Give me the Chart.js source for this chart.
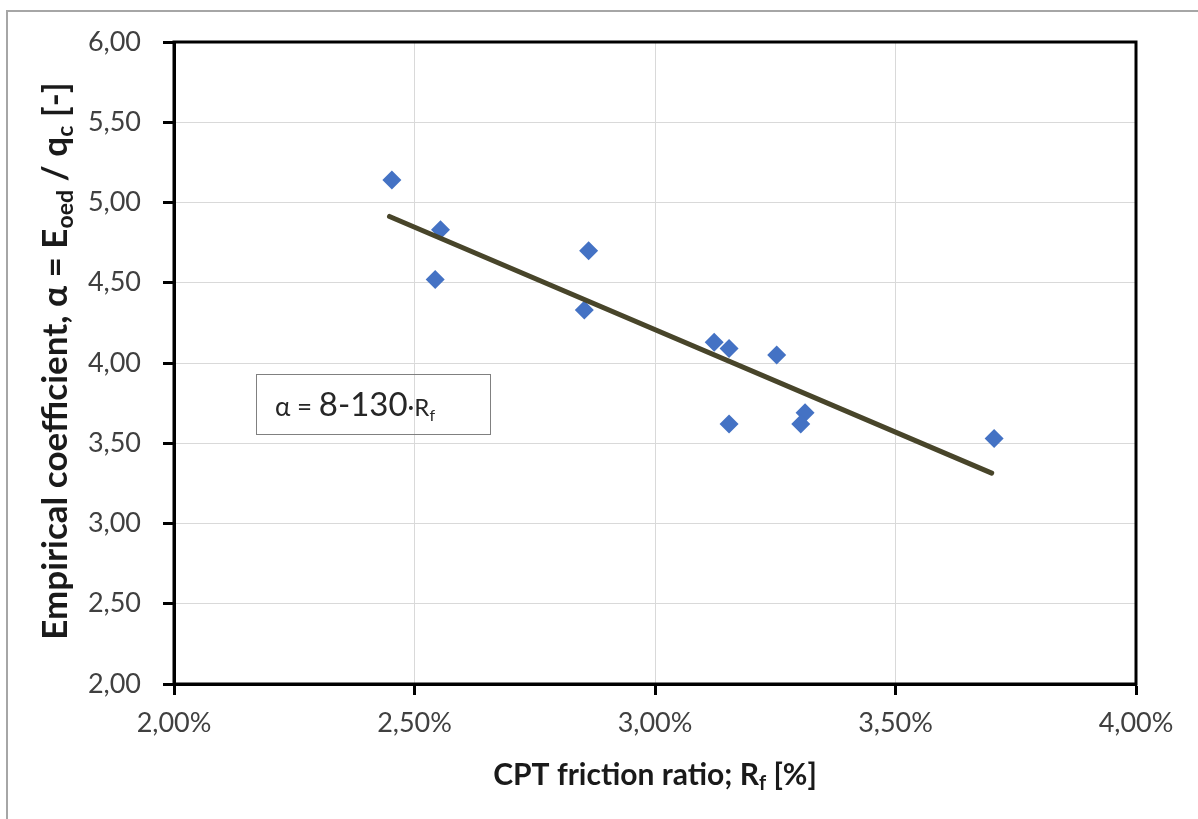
<!DOCTYPE html>
<html>
<head>
<meta charset="utf-8">
<script src="https://cdn.jsdelivr.net/npm/chart.js@4.4.1/dist/chart.umd.min.js"></script>
<style>
  body { margin: 0; background: #fff; }
  #wrap { position: relative; width: 1198px; height: 819px; }
</style>
</head>
<body>
<div id="wrap"><canvas id="grafico"></canvas></div>
<script>
// Dados (Rf em %, alfa adimensional)
const frictionRatio = [2.453, 2.554, 2.543, 2.862, 2.853, 3.123, 3.154, 3.253, 3.154, 3.312, 3.303, 3.705];
const alphaValues = [5.14, 4.83, 4.52, 4.70, 4.33, 4.13, 4.09, 4.05, 3.62, 3.69, 3.62, 3.53];

// Linha de tendência (extremos)
const trendX = [2.448, 3.700];
const trendY = [4.913, 3.314];

const xTickValues = [2.0, 2.5, 3.0, 3.5, 4.0];
const yTickValues = [2.0, 2.5, 3.0, 3.5, 4.0, 4.5, 5.0, 5.5, 6.0];

const FONT = "Lato, 'Open Sans', sans-serif";
const fmt = v => v.toFixed(2).replace('.', ',');

// desenha texto com partes (subscritos) a partir de x, na linha de base y
function drawParts(ctx, parts, x, y) {
  parts.forEach(p => {
    ctx.font = p.font;
    ctx.fillText(p.text, x, y + (p.dy || 0));
    x += ctx.measureText(p.text).width;
  });
}
function partsWidth(ctx, parts) {
  let w = 0;
  parts.forEach(p => { ctx.font = p.font; w += ctx.measureText(p.text).width; });
  return w;
}

const bold = s => `bold ${s}px ${FONT}`;
const reg = s => `${s}px ${FONT}`;

const decorPlugin = {
  id: 'decor',
  beforeDraw(chart) {
    const ctx = chart.ctx;
    ctx.save();
    ctx.fillStyle = '#fff';
    ctx.fillRect(0, 0, chart.width, chart.height);
    // moldura externa (só topo e esquerda visíveis)
    ctx.strokeStyle = '#a6a6a6';
    ctx.lineWidth = 2;
    ctx.beginPath();
    ctx.moveTo(7, chart.height);
    ctx.lineTo(7, 11);
    ctx.lineTo(chart.width, 11);
    ctx.stroke();
    ctx.restore();
  },
  afterDatasetsDraw(chart) {
    const ctx = chart.ctx;
    const a = chart.chartArea;
    ctx.save();
    // borda da área de plotagem
    ctx.strokeStyle = '#000';
    ctx.lineWidth = 3;
    ctx.strokeRect(a.left, a.top, a.right - a.left, a.bottom - a.top);

    // título do eixo Y
    ctx.fillStyle = '#1a1a1a';
    ctx.textBaseline = 'alphabetic';
    ctx.textAlign = 'left';
    const yParts = [
      { text: 'Empirical coefficient, \u03B1 = E', font: bold(35) },
      { text: 'oed', font: bold(23), dy: 6 },
      { text: ' / q', font: bold(35) },
      { text: 'c', font: bold(23), dy: 6 },
      { text: ' [-]', font: bold(35) }
    ];
    ctx.translate(67, 361);
    ctx.rotate(-Math.PI / 2);
    drawParts(ctx, yParts, -partsWidth(ctx, yParts) / 2, 0);
    ctx.setTransform(1, 0, 0, 1, 0, 0);

    // título do eixo X
    const xParts = [
      { text: 'CPT friction ratio; R', font: bold(30) },
      { text: 'f', font: bold(20), dy: 5 },
      { text: ' [%]', font: bold(30) }
    ];
    drawParts(ctx, xParts, 655 - partsWidth(ctx, xParts) / 2, 785);

    // caixa da equação
    ctx.strokeStyle = '#808080';
    ctx.lineWidth = 1;
    ctx.strokeRect(256.5, 374.5, 234, 60);
    ctx.fillStyle = '#262626';
    const eqParts = [
      { text: '\u03B1 = ', font: reg(26) },
      { text: '8-130', font: reg(33) },
      { text: '\u00B7', font: reg(26) },
      { text: 'R', font: reg(24) },
      { text: 'f', font: reg(16), dy: 5 }
    ];
    drawParts(ctx, eqParts, 275, 416);
    ctx.restore();
  }
};

const ctx = document.getElementById('grafico');

new Chart(ctx, {
  type: 'scatter',
  data: {
    datasets: [
      {
        label: 'Linha de tendência',
        data: trendX.map((x, i) => ({ x: x, y: trendY[i] })),
        showLine: true,
        borderColor: '#48452a',
        borderWidth: 5,
        borderCapStyle: 'round',
        pointRadius: 0,
        order: 0
      },
      {
        label: 'Dados',
        data: frictionRatio.map((x, i) => ({ x: x, y: alphaValues[i] })),
        pointStyle: 'rectRot',
        pointRadius: 9.5,
        backgroundColor: '#4472c4',
        borderColor: '#4472c4',
        borderWidth: 0,
        order: 1
      }
    ]
  },
  options: {
    responsive: true,
    maintainAspectRatio: false,
    animation: false,
    layout: { padding: { left: 0, top: 42, right: 62, bottom: 0 } },
    plugins: {
      legend: { display: false },
      tooltip: { enabled: false }
    },
    scales: {
      x: {
        type: 'linear',
        min: 2,
        max: 4,
        afterBuildTicks: s => { s.ticks = xTickValues.map(v => ({ value: v })); },
        afterFit: s => { s.height = 135; },
        ticks: {
          callback: v => fmt(v) + '%',
          font: { family: FONT, size: 27 },
          color: '#404040',
          padding: 12,
          maxRotation: 0
        },
        grid: {
          color: '#d9d9d9',
          lineWidth: 1,
          tickLength: 11,
          tickColor: '#000',
          tickWidth: 3
        },
        border: { color: '#000', width: 3 }
      },
      y: {
        type: 'linear',
        min: 2,
        max: 6,
        afterBuildTicks: s => { s.ticks = yTickValues.map(v => ({ value: v })); },
        afterFit: s => { s.width = 174; },
        ticks: {
          callback: v => fmt(v),
          font: { family: FONT, size: 27 },
          color: '#404040',
          padding: 22
        },
        grid: {
          color: '#d9d9d9',
          lineWidth: 1,
          tickLength: 11,
          tickColor: '#000',
          tickWidth: 3
        },
        border: { color: '#000', width: 3 }
      }
    }
  },
  plugins: [decorPlugin]
});
</script>
</body>
</html>
